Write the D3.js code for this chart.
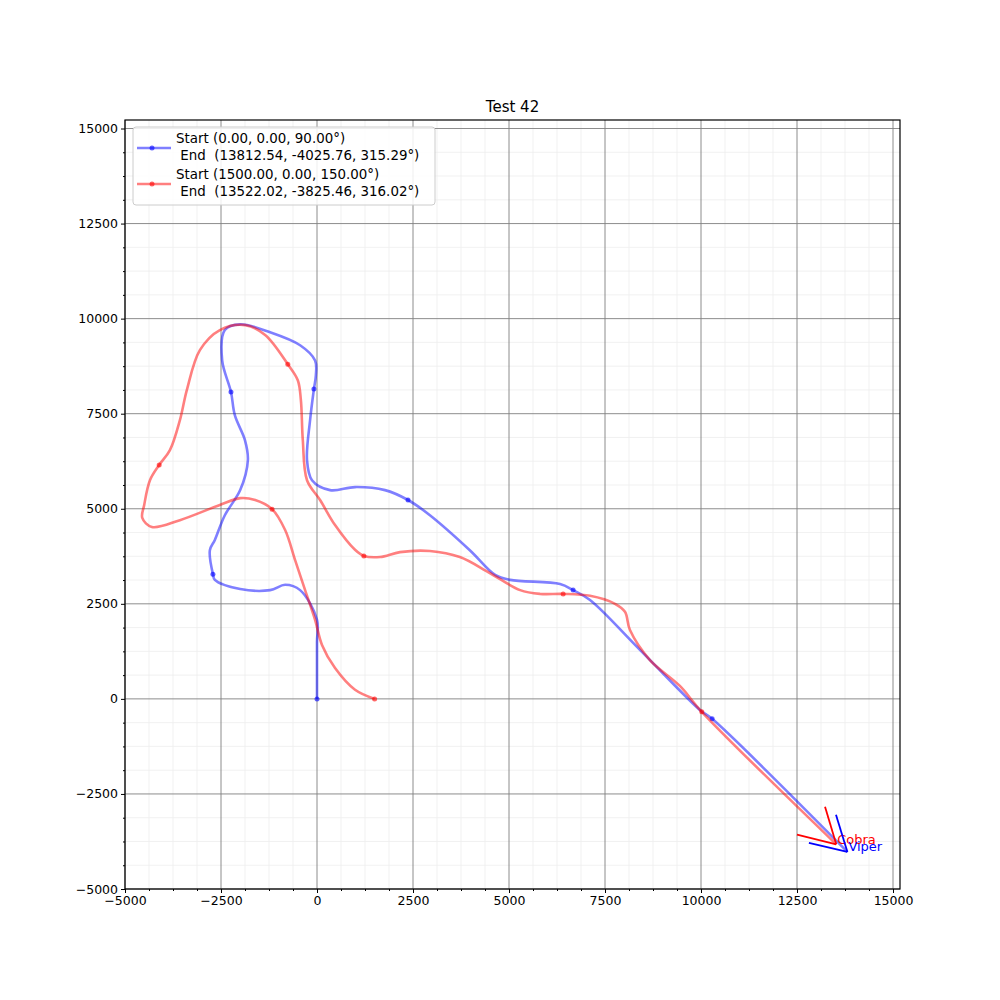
<!DOCTYPE html>
<html lang="en">
<head>
  <meta charset="UTF-8">
  <title>Test 42</title>
  <script src="https://d3js.org/d3.v7.min.js"></script>
  <style>
    body { margin: 0; background: #fff; font-family: "DejaVu Sans", sans-serif; }
  </style>
</head>
<body>
  <svg id="chart" width="1000" height="1000"></svg>
  <script>
    // path of the blue (Viper) track
    var viperPath = [[0,0],[0,1500],[0,2080],[-440,2860],[-830,3000],[-1220,2860],[-2000,2890],[-2660,3130],[-2710,3280],
      [-2790,3910],[-2660,4180],[-2400,4830],[-2000,5490],[-1800,6280],[-1875,6800],[-2140,7460],[-2240,8070],
      [-2470,8900],[-2400,9700],[-2000,9850],[-1220,9640],[-440,9300],[-50,8900],[-30,8500],[-80,8150],[-180,7330],
      [-260,6280],[-130,5750],[340,5490],[990,5570],[1770,5490],[2370,5230],[2940,4830],[3980,3910],[4640,3260],
      [5030,3130],[6330,3020],[6670,2860],[7110,2600],[8410,1290],[9970,-290],[10290,-525],[13812.54,-4025.76]];
    var viperDots = [[0,0],[-2710,3280],[-2240,8070],[-80,8150],[2370,5230],[6670,2860],[10290,-525]];

    // path of the red (Cobra) track
    var cobraPath = [[1500,0],[990,240],[470,810],[130,1420],[-50,2080],[-310,2860],[-570,3650],[-830,4440],[-1170,4990],
      [-1610,5230],[-2000,5280],[-2530,5100],[-3570,4700],[-4300,4520],[-4550,4760],[-4500,5100],[-4350,5750],[-4110,6150],
      [-3830,6540],[-3570,7330],[-3390,8120],[-3050,9170],[-2530,9700],[-1870,9830],[-1350,9570],[-760,8800],[-500,8380],
      [-420,7860],[-370,6810],[-260,5750],[80,5230],[470,4570],[990,3920],[1220,3760],[1640,3730],[2160,3860],[2940,3890],
      [3720,3730],[4500,3310],[5290,2860],[5810,2760],[6410,2760],[7110,2710],[7760,2500],[8020,2290],[8150,1810],
      [8670,1020],[9450,340],[10020,-340],[13522.02,-3825.46]];
    var cobraDots = [[1500,0],[-1170,4990],[-4110,6150],[-760,8800],[1220,3760],[6410,2760],[10020,-340]];

    // heading arrows: two strokes from each end point
    var viperArrow = [[12810,-3785],[13515,-3050]];
    var cobraArrow = [[12500,-3570],[13230,-2840]];

    var legendLabels = [
      ["Start (0.00, 0.00, 90.00°)", " End  (13812.54, -4025.76, 315.29°)"],
      ["Start (1500.00, 0.00, 150.00°)", " End  (13522.02, -3825.46, 316.02°)"]
    ];
    var ticks = [-5000, -2500, 0, 2500, 5000, 7500, 10000, 12500, 15000];

    var svg = d3.select('#chart');
    var L = 125, R = 900, T = 120, B = 889;
    var x = d3.scaleLinear().domain([-5000, 15000]).range([L, 893]);
    var y = d3.scaleLinear().domain([-5000, 15000]).range([B, 128.5]);

    var minor = d3.range(-5000, 15001, 625).filter(d => d % 2500);
    var g = svg.append('g');
    g.selectAll('.mx').data(minor).enter().append('line')
      .attr('x1', d => x(d)).attr('x2', d => x(d)).attr('y1', T).attr('y2', B)
      .attr('stroke', '#eeeeee').attr('stroke-width', 0.8);
    g.selectAll('.my').data(minor).enter().append('line')
      .attr('y1', d => y(d)).attr('y2', d => y(d)).attr('x1', L).attr('x2', R)
      .attr('stroke', '#eeeeee').attr('stroke-width', 0.8);
    g.selectAll('.Mx').data(ticks).enter().append('line')
      .attr('x1', d => x(d)).attr('x2', d => x(d)).attr('y1', T).attr('y2', B)
      .attr('stroke', '#808080').attr('stroke-width', 0.9);
    g.selectAll('.My').data(ticks).enter().append('line')
      .attr('y1', d => y(d)).attr('y2', d => y(d)).attr('x1', L).attr('x2', R)
      .attr('stroke', '#808080').attr('stroke-width', 0.9);

    var fmt = d => d < 0 ? '−' + Math.abs(d) : d;
    svg.append('g').attr('transform', 'translate(0,' + B + ')')
      .call(d3.axisBottom(x).tickValues(ticks).tickSize(4).tickPadding(3).tickFormat(fmt));
    svg.append('g').attr('transform', 'translate(0,' + B + ')')
      .call(d3.axisBottom(x).tickValues(minor).tickSize(2).tickFormat(''));
    svg.append('g').attr('transform', 'translate(' + L + ',0)')
      .call(d3.axisLeft(y).tickValues(ticks).tickSize(4).tickPadding(3).tickFormat(fmt));
    svg.append('g').attr('transform', 'translate(' + L + ',0)')
      .call(d3.axisLeft(y).tickValues(minor).tickSize(2).tickFormat(''));
    svg.selectAll('.domain').remove();
    svg.selectAll('.tick text').attr('font-size', 12.5).attr('font-family', 'DejaVu Sans').attr('fill', '#000');

    var line = d3.line().x(d => x(d[0])).y(d => y(d[1])).curve(d3.curveCatmullRom.alpha(0.5));
    function track(path, dots, color) {
      svg.append('path').attr('d', line(path)).attr('fill', 'none')
        .attr('stroke', color).attr('stroke-opacity', 0.5).attr('stroke-width', 2.6);
      svg.selectAll(null).data(dots).enter().append('circle')
        .attr('cx', d => x(d[0])).attr('cy', d => y(d[1])).attr('r', 2.5)
        .attr('fill', color).attr('fill-opacity', 0.6);
    }
    track(viperPath, viperDots, 'blue');
    track(cobraPath, cobraDots, 'red');

    function arrow(end, pts, color, label, dy) {
      pts.forEach(p => {
        svg.append('line').attr('x1', x(end[0])).attr('y1', y(end[1]))
          .attr('x2', x(p[0])).attr('y2', y(p[1])).attr('stroke', color).attr('stroke-width', 1.8);
      });
      svg.append('text').attr('x', x(end[0]) + 1).attr('y', y(end[1]) + dy)
        .attr('fill', color).attr('font-size', 13).text(label);
    }
    arrow(cobraPath[cobraPath.length - 1], cobraArrow, 'red', 'Cobra', 0);
    arrow(viperPath[viperPath.length - 1], viperArrow, 'blue', 'Viper', -1);

    svg.append('rect').attr('x', L).attr('y', T).attr('width', R - L).attr('height', B - T)
      .attr('fill', 'none').attr('stroke', '#000').attr('stroke-width', 1.2);

    svg.append('text').attr('x', (L + R) / 2).attr('y', 112).attr('text-anchor', 'middle')
      .attr('font-size', 15).text('Test 42');

    // legend
    var lg = svg.append('g').attr('transform', 'translate(133,127)');
    lg.append('rect').attr('width', 302).attr('height', 78).attr('rx', 3)
      .attr('fill', '#fff').attr('fill-opacity', 0.85).attr('stroke', '#ccc');
    [['blue', 0], ['red', 1]].forEach(c => {
      var yy = 21 + c[1] * 36;
      lg.append('line').attr('x1', 4).attr('x2', 38).attr('y1', yy).attr('y2', yy)
        .attr('stroke', c[0]).attr('stroke-opacity', 0.5).attr('stroke-width', 2.6);
      lg.append('circle').attr('cx', 19).attr('cy', yy).attr('r', 2.5).attr('fill', c[0]).attr('fill-opacity', 0.6);
      legendLabels[c[1]].forEach((t, j) => {
        lg.append('text').attr('x', 43).attr('y', 16 + c[1] * 36 + j * 17).attr('font-size', 13.4)
          .attr('xml:space', 'preserve').style('white-space', 'pre').text(t);
      });
    });
  </script>
</body>
</html>
